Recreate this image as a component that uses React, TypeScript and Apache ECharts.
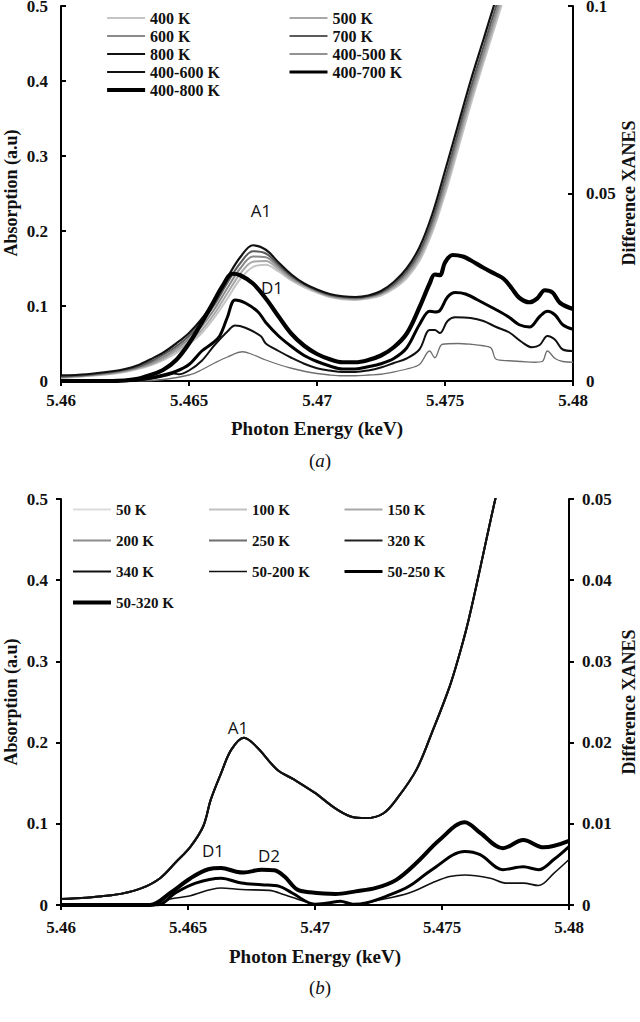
import React, { useEffect, useRef } from "react";
import * as echarts from "echarts";

// ---------- Panel (a) data ----------
const energyA = [5.46, 5.461, 5.462, 5.4625, 5.463, 5.4635, 5.464, 5.4645, 5.465, 5.4655, 5.466, 5.4665, 5.467, 5.4675, 5.468, 5.4685, 5.469, 5.4695, 5.47, 5.4705, 5.471, 5.4715, 5.472, 5.4725, 5.473, 5.4735, 5.474, 5.4745, 5.475, 5.4755, 5.476, 5.4765, 5.477, 5.4775];
const abs400 = [0.004, 0.0065, 0.0095, 0.012, 0.016, 0.021, 0.028, 0.037, 0.049, 0.064, 0.085, 0.110, 0.136, 0.152, 0.155, 0.146, 0.134, 0.125, 0.118, 0.112, 0.109, 0.108, 0.110, 0.114, 0.123, 0.137, 0.160, 0.198, 0.249, 0.308, 0.368, 0.424, 0.478, 0.533];
const abs500 = [0.0045, 0.007, 0.010, 0.013, 0.017, 0.022, 0.030, 0.040, 0.052, 0.068, 0.090, 0.117, 0.143, 0.159, 0.160, 0.149, 0.136, 0.127, 0.119, 0.113, 0.110, 0.109, 0.111, 0.116, 0.125, 0.140, 0.164, 0.203, 0.255, 0.315, 0.375, 0.43, 0.485, 0.54];
const abs600 = [0.005, 0.0075, 0.011, 0.014, 0.018, 0.024, 0.032, 0.043, 0.056, 0.073, 0.096, 0.124, 0.150, 0.166, 0.165, 0.152, 0.138, 0.128, 0.120, 0.114, 0.111, 0.110, 0.112, 0.117, 0.127, 0.143, 0.168, 0.208, 0.262, 0.322, 0.382, 0.437, 0.492, 0.545];
const abs700 = [0.006, 0.008, 0.012, 0.015, 0.019, 0.026, 0.035, 0.046, 0.060, 0.078, 0.102, 0.131, 0.157, 0.173, 0.170, 0.155, 0.140, 0.129, 0.121, 0.115, 0.112, 0.111, 0.113, 0.118, 0.129, 0.146, 0.172, 0.214, 0.270, 0.33, 0.39, 0.445, 0.50, 0.55];
const abs800 = [0.0075, 0.009, 0.013, 0.016, 0.021, 0.029, 0.038, 0.05, 0.064, 0.083, 0.108, 0.138, 0.165, 0.181, 0.175, 0.158, 0.142, 0.130, 0.122, 0.116, 0.113, 0.112, 0.114, 0.120, 0.132, 0.150, 0.178, 0.222, 0.280, 0.34, 0.40, 0.455, 0.51, 0.56];

// difference spectra (right axis, 0..0.1) as [energy, value]
const diff400_500 = [[5.46, 0], [5.463, 0], [5.464, 0.0004], [5.465, 0.0016], [5.4655, 0.003], [5.466, 0.0048], [5.4665, 0.0064], [5.4671, 0.0078], [5.4675, 0.007], [5.468, 0.0056], [5.4685, 0.0044], [5.469, 0.0034], [5.4695, 0.0026], [5.47, 0.002], [5.4705, 0.0016], [5.471, 0.0014], [5.4715, 0.0014], [5.472, 0.0016], [5.4725, 0.0018], [5.473, 0.0024], [5.4735, 0.0032], [5.474, 0.0044], [5.4744, 0.008], [5.4746, 0.0062], [5.4749, 0.0098], [5.4755, 0.010], [5.476, 0.0098], [5.4765, 0.0094], [5.4768, 0.0088], [5.477, 0.0058], [5.4775, 0.0054], [5.478, 0.0052], [5.4785, 0.005], [5.4788, 0.0052], [5.479, 0.008], [5.4793, 0.006], [5.4796, 0.0052], [5.48, 0.005]];
const diff400_600 = [[5.46, 0], [5.4625, 0], [5.4635, 0.0006], [5.4642, 0.0016], [5.4644, 0.002], [5.4646, 0.0018], [5.465, 0.0028], [5.4655, 0.0054], [5.466, 0.0096], [5.4665, 0.0132], [5.4668, 0.0148], [5.4672, 0.0142], [5.4678, 0.012], [5.468, 0.010], [5.4685, 0.008], [5.469, 0.0062], [5.4695, 0.0046], [5.47, 0.0034], [5.4705, 0.0028], [5.471, 0.0024], [5.4715, 0.0024], [5.472, 0.0028], [5.4725, 0.0036], [5.473, 0.0048], [5.4735, 0.006], [5.474, 0.0084], [5.4744, 0.0136], [5.4746, 0.0136], [5.4748, 0.0128], [5.4751, 0.016], [5.4754, 0.017], [5.476, 0.0168], [5.4765, 0.016], [5.477, 0.0144], [5.4775, 0.013], [5.478, 0.0104], [5.4784, 0.009], [5.4787, 0.0096], [5.479, 0.012], [5.4793, 0.011], [5.4796, 0.0084], [5.48, 0.008]];
const diff400_700 = [[5.46, 0], [5.4625, 0], [5.4635, 0.0008], [5.464, 0.0016], [5.4645, 0.0026], [5.465, 0.0044], [5.4655, 0.008], [5.4659, 0.010], [5.4662, 0.012], [5.4665, 0.017], [5.4668, 0.0216], [5.4672, 0.0208], [5.4677, 0.0184], [5.468, 0.0156], [5.4685, 0.012], [5.469, 0.0092], [5.4695, 0.0068], [5.47, 0.0052], [5.4705, 0.004], [5.471, 0.0032], [5.4715, 0.0032], [5.472, 0.0038], [5.4725, 0.0046], [5.473, 0.006], [5.4735, 0.0088], [5.474, 0.015], [5.4744, 0.0186], [5.4746, 0.0184], [5.4748, 0.0188], [5.4751, 0.0224], [5.4754, 0.0236], [5.4758, 0.0232], [5.4765, 0.0208], [5.477, 0.019], [5.4775, 0.017], [5.4779, 0.015], [5.4783, 0.0144], [5.4787, 0.0172], [5.479, 0.0186], [5.4793, 0.0176], [5.4796, 0.015], [5.48, 0.0138]];
const diff400_800 = [[5.46, 0], [5.462, 0], [5.463, 0.0006], [5.4635, 0.0016], [5.464, 0.003], [5.4645, 0.0056], [5.465, 0.010], [5.4655, 0.0156], [5.466, 0.0216], [5.4663, 0.0252], [5.4667, 0.0286], [5.467, 0.0282], [5.4675, 0.026], [5.468, 0.022], [5.4685, 0.0172], [5.469, 0.0126], [5.4695, 0.0094], [5.47, 0.0072], [5.4705, 0.0058], [5.471, 0.005], [5.4715, 0.005], [5.472, 0.0056], [5.4725, 0.0068], [5.473, 0.009], [5.4735, 0.0126], [5.474, 0.0196], [5.4744, 0.026], [5.4746, 0.0284], [5.4748, 0.0282], [5.475, 0.0316], [5.4753, 0.0336], [5.4757, 0.0332], [5.476, 0.0322], [5.4765, 0.0302], [5.477, 0.0284], [5.4773, 0.0272], [5.4776, 0.0248], [5.4779, 0.0222], [5.4783, 0.021], [5.4786, 0.022], [5.4789, 0.0242], [5.4792, 0.0236], [5.4795, 0.0208], [5.48, 0.0192]];

// ---------- Panel (b) data ----------
const absLowT = [[5.46, 0.0074], [5.461, 0.009], [5.4616, 0.0107], [5.4624, 0.014], [5.4632, 0.021], [5.4639, 0.033], [5.4645, 0.052], [5.4651, 0.072], [5.4656, 0.097], [5.4659, 0.13], [5.4663, 0.162], [5.4667, 0.191], [5.4672, 0.206], [5.4677, 0.195], [5.4685, 0.167], [5.4692, 0.154], [5.47, 0.138], [5.4708, 0.119], [5.4714, 0.109], [5.472, 0.107], [5.4727, 0.113], [5.4733, 0.134], [5.474, 0.167], [5.4746, 0.212], [5.4753, 0.269], [5.4757, 0.31], [5.476, 0.345], [5.4764, 0.40], [5.4771, 0.50], [5.4775, 0.55]];
const diff50_200 = [[5.46, 0], [5.4638, 0], [5.4643, 0.00074], [5.465, 0.00107], [5.4663, 0.0021], [5.4671, 0.0019], [5.4682, 0.0018], [5.4688, 0.00127], [5.4698, 0.00025], [5.4705, 0], [5.4716, 0], [5.4723, 0.00045], [5.4737, 0.00148], [5.4746, 0.0027], [5.4753, 0.0035], [5.4759, 0.0037], [5.4769, 0.0033], [5.4775, 0.0027], [5.4782, 0.0027], [5.4788, 0.0024], [5.4794, 0.0039], [5.48, 0.0056]];
const diff50_250 = [[5.46, 0], [5.4638, 0], [5.4645, 0.00148], [5.4653, 0.0027], [5.4663, 0.0033], [5.4671, 0.0027], [5.4679, 0.0025], [5.4686, 0.0023], [5.4691, 0.00148], [5.47, 0.0001], [5.4705, 0.00025], [5.471, 0.00045], [5.4715, 0.0001], [5.472, 0.00025], [5.4728, 0.00107], [5.4737, 0.0023], [5.4746, 0.00435], [5.4759, 0.0066], [5.4765, 0.0062], [5.4774, 0.00435], [5.4782, 0.0047], [5.4788, 0.00435], [5.4794, 0.0056], [5.48, 0.0072]];
const diff50_320 = [[5.46, 0], [5.4635, 0], [5.4643, 0.00148], [5.4651, 0.0033], [5.4658, 0.0044], [5.4663, 0.00455], [5.4669, 0.0041], [5.4672, 0.004], [5.4679, 0.00435], [5.4684, 0.00427], [5.4688, 0.0035], [5.4693, 0.0019], [5.4698, 0.00156], [5.4708, 0.00135], [5.4716, 0.00168], [5.4724, 0.0021], [5.4732, 0.0031], [5.474, 0.0052], [5.4749, 0.008], [5.4759, 0.0102], [5.4765, 0.0089], [5.4774, 0.007], [5.4782, 0.008], [5.479, 0.0071], [5.48, 0.0079]];

const energyTicks = [5.46, 5.465, 5.47, 5.475, 5.48];

const SERIF = "'Liberation Serif', 'Times New Roman', serif";
const SANS = "'Open Sans', 'DejaVu Sans', sans-serif";

// line appearance per series name
const STYLE: Record<string, [string, number]> = {
  "400 K": ["#c4c4c4", 2],
  "500 K": ["#a8a8a8", 2],
  "600 K": ["#8a8a8a", 2],
  "700 K": ["#5a5a5a", 2],
  "800 K": ["#111111", 2.2],
  "400-500 K": ["#6e6e6e", 1.3],
  "400-600 K": ["#111111", 2],
  "400-700 K": ["#000000", 3],
  "400-800 K": ["#000000", 4.2],
  "50 K": ["#dcdcdc", 2],
  "100 K": ["#c2c2c2", 2],
  "150 K": ["#a8a8a8", 2],
  "200 K": ["#8c8c8c", 2],
  "250 K": ["#6e6e6e", 2],
  "320 K": ["#222222", 2],
  "340 K": ["#111111", 2],
  "50-200 K": ["#111111", 1.6],
  "50-250 K": ["#000000", 3],
  "50-320 K": ["#000000", 4],
};

const zip = (xs: number[], ys: number[]) => xs.map((x, i) => [x, ys[i]]);

function line(name: string, data: any, xi: number, yi: number) {
  const [color, width] = STYLE[name];
  return {
    name,
    type: "line",
    xAxisIndex: xi,
    yAxisIndex: yi,
    data,
    symbol: "none",
    smooth: 0.35,
    lineStyle: { color, width },
    itemStyle: { color },
    clip: true,
    z: 2,
  };
}

function xAxis(gridIndex: number, nameGap: number, labelMargin: number) {
  return {
    type: "value",
    gridIndex,
    min: 5.46,
    max: 5.48,
    interval: 0.005,
    name: "Photon Energy (keV)",
    nameLocation: "middle",
    nameGap,
    nameTextStyle: { fontFamily: SERIF, fontWeight: "bold", fontSize: 19, color: "#111" },
    axisLine: { show: true, onZero: false, lineStyle: { color: "#000", width: 2 } },
    axisTick: { show: true, inside: false, length: 5, lineStyle: { color: "#000", width: 2 } },
    axisLabel: {
      margin: labelMargin,
      fontFamily: SERIF,
      fontWeight: "bold",
      fontSize: 17,
      color: "#111",
      formatter: (v: number) => {
        const t = energyTicks.find((e) => Math.abs(e - v) < 1e-6);
        return t !== undefined ? String(t) : "";
      },
    },
    splitLine: { show: false },
  };
}

function yAxis(gridIndex: number, position: string, max: number, interval: number, inside: boolean, digits: number) {
  return {
    type: "value",
    gridIndex,
    position,
    min: 0,
    max,
    interval,
    axisLine: { show: true, lineStyle: { color: "#000", width: 2 } },
    axisTick: { show: true, inside, length: 5, lineStyle: { color: "#000", width: 2 } },
    axisLabel: {
      margin: 13,
      fontFamily: SERIF,
      fontWeight: "bold",
      fontSize: 17,
      color: "#111",
      formatter: (v: number) => String(Number(v.toFixed(digits))),
    },
    splitLine: { show: false },
  };
}

function legend(names: string[], left: number, top: number, itemGap: number, fontSize: number) {
  return {
    data: names.map((n) => ({ name: n, lineStyle: { width: STYLE[n][1], color: STYLE[n][0] } })),
    orient: "vertical",
    left,
    top,
    padding: 0,
    itemWidth: 38,
    itemHeight: 14,
    itemGap,
    selectedMode: false,
    itemStyle: { opacity: 0 },
    textStyle: { fontFamily: SERIF, fontWeight: "bold", fontSize, color: "#111" },
  };
}

function caption(letter: string, x: number, y: number) {
  return {
    type: "text",
    x,
    y,
    style: {
      text: "{p|(}{i|" + letter + "}{p|)}",
      align: "center",
      verticalAlign: "middle",
      rich: {
        p: { fontFamily: SERIF, fontSize: 19, fill: "#111" },
        i: { fontFamily: SERIF, fontSize: 19, fontStyle: "italic", fill: "#111" },
      },
    },
  };
}

function peakLabel(text: string, x: number, y: number) {
  return {
    type: "text",
    x,
    y,
    z: 10,
    style: { text, fontFamily: SANS, fontSize: 17, fill: "#111", align: "center", verticalAlign: "middle" },
  };
}

function axisTitle(text: string, x: number, y: number) {
  return {
    type: "text",
    x,
    y,
    rotation: Math.PI / 2,
    z: 10,
    style: { text, fontFamily: SERIF, fontWeight: "bold", fontSize: 18, fill: "#111", align: "center", verticalAlign: "middle" },
  };
}

export default function App() {
  const ref = useRef<HTMLDivElement>(null);
  useEffect(() => {
    if (!ref.current) return;
    const chart = echarts.init(ref.current, undefined, { renderer: "svg" });
    const option: any = {
      animation: false,
      backgroundColor: "#ffffff",
      grid: [
        { left: 61, right: 67, top: 6, height: 375, containLabel: false, outerBoundsMode: "none" },
        { left: 61, right: 71, top: 499, height: 406, containLabel: false, outerBoundsMode: "none" },
      ],
      xAxis: [xAxis(0, 38, 11), xAxis(1, 42, 14)],
      yAxis: [
        yAxis(0, "left", 0.5, 0.1, true, 1),
        yAxis(0, "right", 0.1, 0.05, true, 2),
        yAxis(1, "left", 0.5, 0.1, false, 1),
        yAxis(1, "right", 0.05, 0.01, false, 2),
      ],
      legend: [
        legend(["400 K", "600 K", "800 K", "400-600 K", "400-800 K"], 105, 10, 2, 16),
        legend(["500 K", "700 K", "400-500 K", "400-700 K"], 288, 10, 2, 16),
        legend(["50 K", "200 K", "340 K", "50-320 K"], 71, 502, 16, 15),
        legend(["100 K", "250 K", "50-200 K"], 208, 502, 16, 15),
        legend(["150 K", "320 K", "50-250 K"], 343, 502, 16, 15),
      ],
      graphic: [
        axisTitle("Absorption (a.u)", 11, 193),
        axisTitle("Difference XANES", 629, 193),
        axisTitle("Absorption (a.u)", 11, 702),
        axisTitle("Difference XANES", 629, 702),
        peakLabel("A1", 261, 210),
        peakLabel("D1", 272, 287),
        peakLabel("A1", 238, 727),
        peakLabel("D1", 213, 850),
        peakLabel("D2", 269, 855),
        caption("a", 320, 460),
        caption("b", 320, 987),
      ],
      series: [
        line("400 K", zip(energyA, abs400), 0, 0),
        line("500 K", zip(energyA, abs500), 0, 0),
        line("600 K", zip(energyA, abs600), 0, 0),
        line("700 K", zip(energyA, abs700), 0, 0),
        line("800 K", zip(energyA, abs800), 0, 0),
        line("400-500 K", diff400_500, 0, 1),
        line("400-600 K", diff400_600, 0, 1),
        line("400-700 K", diff400_700, 0, 1),
        line("400-800 K", diff400_800, 0, 1),

        line("50 K", absLowT, 1, 2),
        line("100 K", absLowT, 1, 2),
        line("150 K", absLowT, 1, 2),
        line("200 K", absLowT, 1, 2),
        line("250 K", absLowT, 1, 2),
        line("320 K", absLowT, 1, 2),
        line("340 K", absLowT, 1, 2),
        line("50-200 K", diff50_200, 1, 3),
        line("50-250 K", diff50_250, 1, 3),
        line("50-320 K", diff50_320, 1, 3),
      ],
    };
    chart.setOption(option);
    return () => chart.dispose();
  }, []);
  return (
    <div
      ref={ref}
      style={{ position: "absolute", left: 0, top: 0, width: 640, height: 1022, background: "#fff" }}
    />
  );
}
